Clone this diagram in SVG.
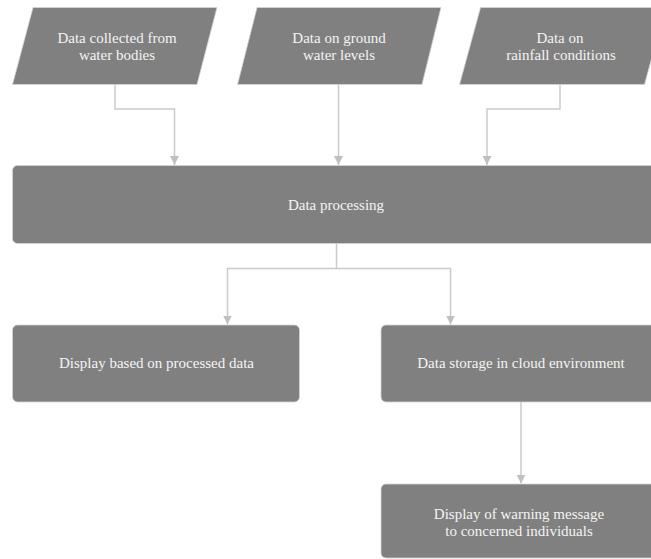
<svg xmlns="http://www.w3.org/2000/svg" width="651" height="559" viewBox="0 0 651 559">
<defs>
<style>
.node{fill:#808080;stroke:#d4d4d4;stroke-width:0.8}
.t{font-family:'Liberation Serif','Times New Roman','DejaVu Serif',serif;font-size:15px;fill:#f4f4f4;text-anchor:middle}
.c{fill:none;stroke:#cbcbcb;stroke-width:1.5}
</style>
<marker id="ah" viewBox="0 0 10 10" refX="10" refY="5" markerWidth="9" markerHeight="10" markerUnits="userSpaceOnUse" orient="auto">
<path d="M0,0 L10,5 L0,10 z" fill="#c0c0c0"/>
</marker>
</defs>
<rect width="651" height="559" fill="#ffffff"/>
<g id="connectors">
<path class="c" d="M115,84.5 V109 H174.5 V165" marker-end="url(#ah)"/>
<path class="c" d="M338.5,84.5 V165" marker-end="url(#ah)"/>
<path class="c" d="M560,84.5 V109 H487 V165" marker-end="url(#ah)"/>
<path class="c" d="M336.5,244 V268.5 H227.5 V324.5" marker-end="url(#ah)"/>
<path class="c" d="M336.5,268.5 H450.5 V324.5" marker-end="url(#ah)"/>
<path class="c" d="M521,402 V483.5" marker-end="url(#ah)"/>
</g>
<g id="n1">
<polygon class="node" points="33,7.5 217,7.5 197,84.5 12.5,84.5"/>
<text class="t" x="117" y="42.5">Data collected from</text>
<text class="t" x="117" y="60">water bodies</text>
</g>
<g id="n2">
<polygon class="node" points="257,7.5 441,7.5 422,84.5 237.5,84.5"/>
<text class="t" x="339" y="42.5">Data on ground</text>
<text class="t" x="339" y="60">water levels</text>
</g>
<g id="n3">
<polygon class="node" points="480.5,7.5 665.5,7.5 644.5,84.5 459.5,84.5"/>
<text class="t" x="560" y="42.5">Data on</text>
<text class="t" x="561" y="60">rainfall conditions</text>
</g>
<g id="n4">
<rect class="node" x="12.5" y="165.5" width="648" height="78" rx="5"/>
<text class="t" x="336" y="210">Data processing</text>
</g>
<g id="n5">
<rect class="node" x="12.5" y="325" width="287" height="77" rx="5"/>
<text class="t" x="156.5" y="368">Display based on processed data</text>
</g>
<g id="n6">
<rect class="node" x="381" y="325" width="280" height="77" rx="5"/>
<text class="t" x="521" y="368">Data storage in cloud environment</text>
</g>
<g id="n7">
<rect class="node" x="381" y="484" width="280" height="74" rx="5"/>
<text class="t" x="519" y="518.5">Display of warning message</text>
<text class="t" x="519" y="536">to concerned individuals</text>
</g>
</svg>
